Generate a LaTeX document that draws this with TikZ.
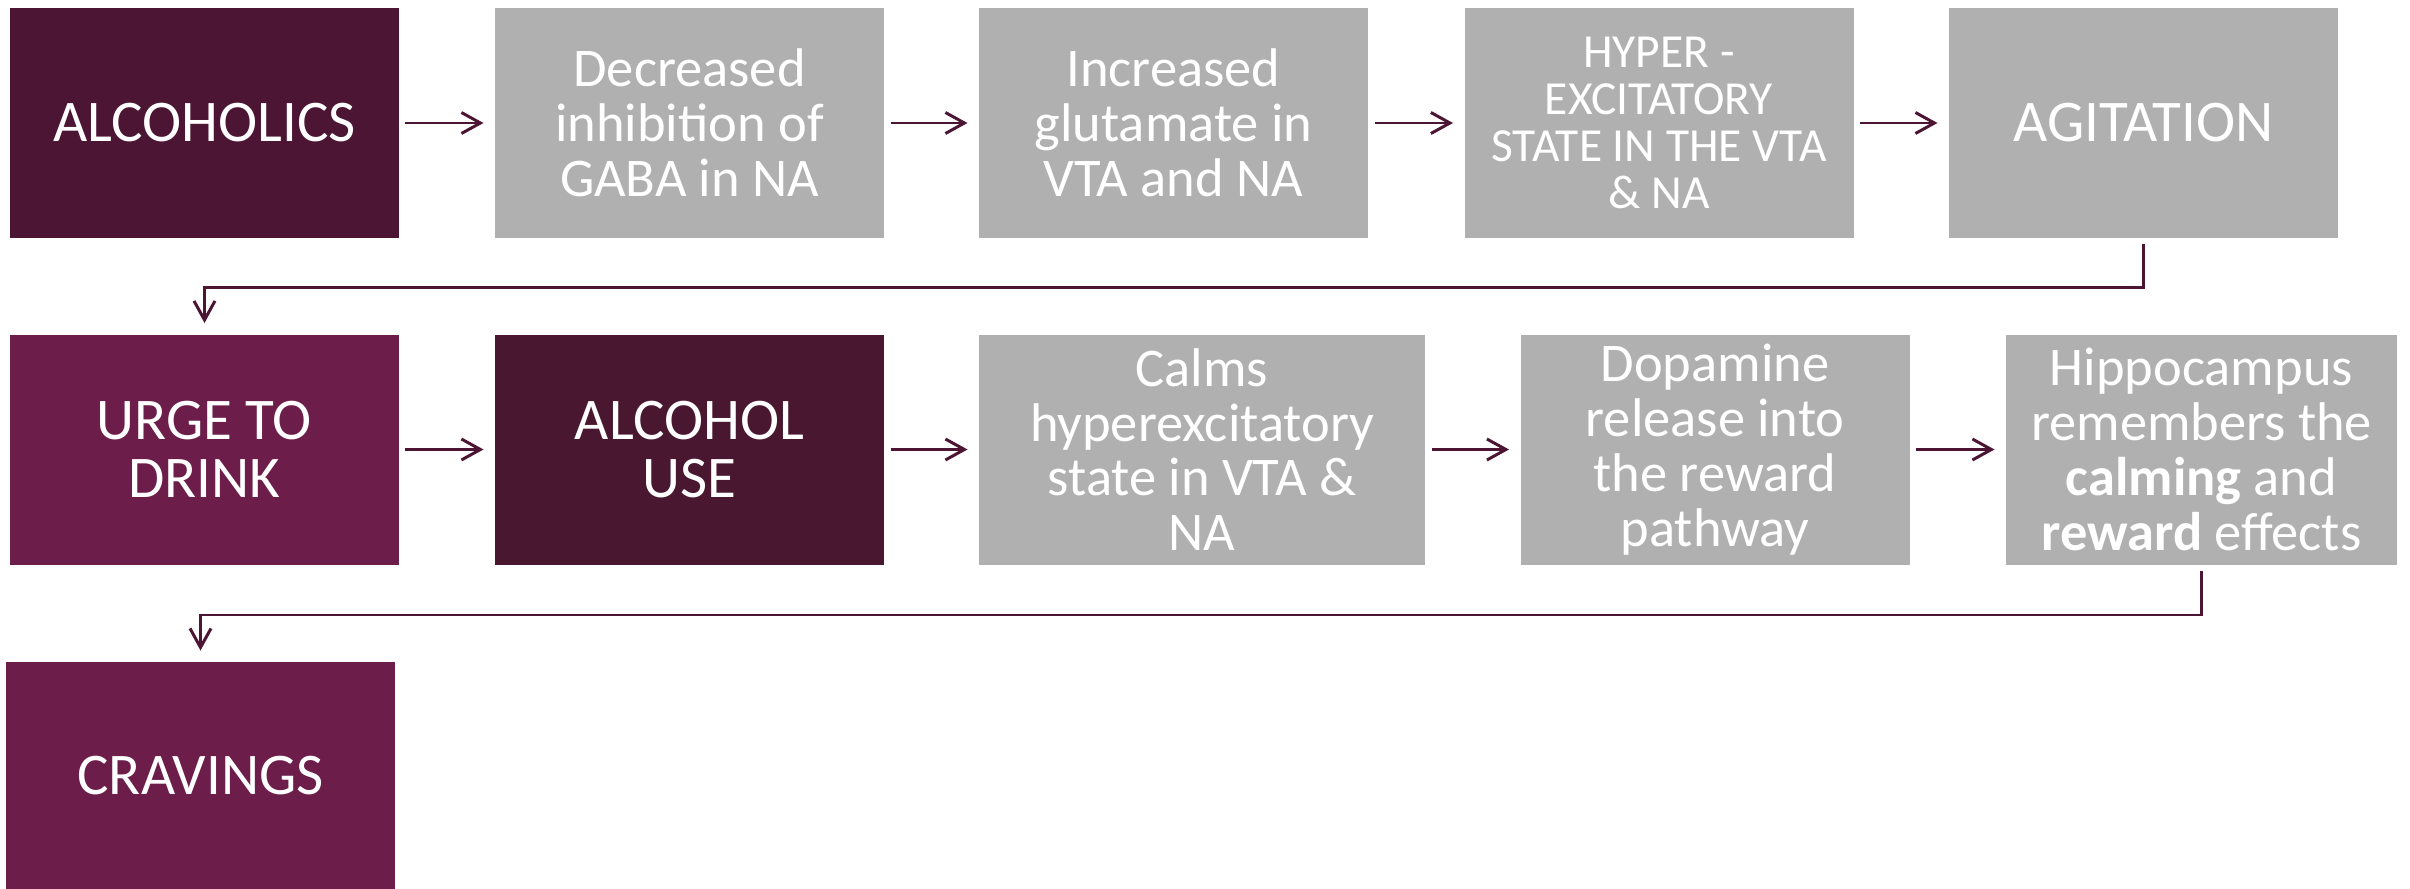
\documentclass[tikz,border=0pt]{standalone}
\usepackage{fontspec}
\setmainfont{Carlito}
\usepackage{xcolor}
\definecolor{Wine-dark}{RGB}{76, 21, 51}
\definecolor{Wine-use}{RGB}{73, 24, 48}
\definecolor{Wine-mid}{RGB}{108, 29, 74}
\definecolor{Grey-box}{RGB}{176, 176, 176}
\usepackage{tikz}
\usetikzlibrary{arrows.meta,positioning,calc}

\begin{document}
\begin{tikzpicture} [
    line width=0.85pt, >={Straight Barb[length=1.9mm,width=2.1mm]},
    font={\fontsize{15.5}{15.6}\selectfont}, text=white,
    box/.style = {rectangle,inner sep=0,minimum height=2.30cm,minimum width=3.89cm,align=center},
    caps/.style = {font={\fontsize{16.8}{16.6}\selectfont}},
    dark/.style = {box,caps,fill=Wine-dark},
    wine/.style = {box,caps,fill=Wine-mid},
    grey/.style = {box,fill=Grey-box},
    link/.style = {->,draw=Wine-dark,shorten <=0.05cm,shorten >=0.1cm}
    ]
    \useasboundingbox (0,0) rectangle (24.10,-8.89);

    \def \xarray{{2.045, 6.895, 11.735, 16.59, 21.435}}
    \def \yarray{{-1.23, -4.495, -7.755}}

    % first row
    \node (alc) [dark] at (\xarray[0], \yarray[0]) {ALCOHOLICS};
    \node (gaba) [grey] at (\xarray[1], \yarray[0]) {Decreased\\inhibition of\\GABA in NA};
    \node (glu) [grey] at (\xarray[2], \yarray[0]) {Increased\\glutamate in\\VTA and NA};
    \node (hyper) [grey,font={\fontsize{13.5}{13.4}\selectfont}] at (\xarray[3], \yarray[0]) {HYPER -\\EXCITATORY\\STATE IN THE VTA\\\& NA};
    \node (agit) [grey,caps] at (\xarray[4], \yarray[0]) {AGITATION};

    % second row
    \node (urge) [wine] at (\xarray[0], \yarray[1]) {URGE TO\\DRINK};
    \node (use) [dark,fill=Wine-use] at (\xarray[1], \yarray[1]) {ALCOHOL\\USE};
    \node (calm) [grey,minimum width=4.46cm] at (12.02, \yarray[1]) {Calms\\hyperexcitatory\\state in VTA \&\\NA};
    \node (dopa) [grey] at (17.15, \yarray[1]) {Dopamine\\release into\\the reward\\pathway};
    \node (hippo) [grey,minimum width=3.91cm] at (22.015, \yarray[1]) {Hippocampus\\remembers the\\\textbf{calming} and\\\textbf{reward} effects};

    % last row
    \node (crav) [wine,minimum height=2.27cm] at (2.005, \yarray[2]) {CRAVINGS};

    \foreach \a/\b in {alc/gaba, gaba/glu, glu/hyper, hyper/agit, urge/use, use/calm, calm/dopa, dopa/hippo}
        \draw[link] (\a) -- (\b);

    \draw[link] (agit.south) -- ++(0,-0.48) -| (urge.north);
    \draw[link] (hippo.south) -- ++(0,-0.49) -| (crav.north);

\end{tikzpicture}
\end{document}
